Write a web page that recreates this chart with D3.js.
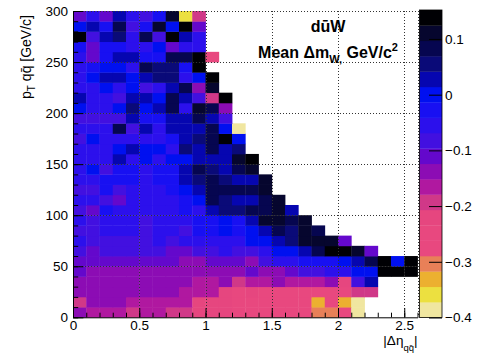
<!DOCTYPE html>
<html>
<head>
<meta charset="utf-8">
<script src="https://cdn.jsdelivr.net/npm/d3@7"></script>
<style>
    body { margin: 0; background: #fff; }
    text { font-family: "Liberation Sans", Arial, Helvetica, sans-serif; }
</style>
</head>
<body>
<svg id="chart" width="491" height="353"></svg>
<script>
// Bin lower edges
const etaBins = [0, 0.1, 0.2, 0.3, 0.4, 0.5, 0.6, 0.7, 0.8, 0.9, 1.0, 1.1, 1.2, 1.3,
    1.4, 1.5, 1.6, 1.7, 1.8, 1.9, 2.0, 2.1, 2.2, 2.3, 2.4, 2.5];
const ptBins = [0, 10, 20, 30, 40, 50, 60, 70, 80, 90, 100, 110, 120, 130, 140,
    150, 160, 170, 180, 190, 200, 210, 220, 230, 240, 250, 260, 270, 280, 290];
const etaBinWidth = 0.1;
const ptBinWidth = 10;

// Mean delta m_W per cell, one row per pT bin (row 0 = 0-10 GeV/c), null = empty
const meanDmW = [
    [-0.14, -0.17, -0.17, -0.17, -0.19, -0.17, -0.17, -0.19, -0.19, -0.21, -0.21, -0.21, -0.25, -0.25, -0.25, -0.25, -0.25, -0.25, -0.30, -0.30, -0.25, -0.39, null, null, null, null],
    [-0.19, -0.14, -0.14, -0.14, -0.17, -0.17, -0.17, -0.17, -0.17, -0.21, -0.21, -0.21, -0.25, -0.25, -0.25, -0.25, -0.25, -0.25, -0.33, -0.25, -0.33, -0.39, null, null, null, null],
    [-0.14, -0.15, -0.15, -0.15, -0.15, -0.15, -0.15, -0.15, -0.16, -0.17, -0.16, -0.22, -0.25, -0.22, -0.25, -0.27, -0.25, -0.25, -0.25, -0.25, -0.25, -0.20, -0.19, null, null, null],
    [-0.14, -0.15, -0.15, -0.15, -0.15, -0.15, -0.15, -0.15, -0.15, -0.16, -0.16, -0.15, -0.18, -0.16, -0.16, -0.15, -0.16, -0.16, -0.16, -0.15, -0.21, -0.08, 0.03, null, null, null],
    [-0.11, -0.14, -0.15, -0.14, -0.14, -0.14, -0.15, -0.14, -0.15, -0.15, -0.14, -0.14, -0.14, -0.11, -0.14, -0.14, -0.11, -0.08, -0.08, -0.06, -0.06, 0.00, 0.00, 0.14, 0.14, 0.14],
    [-0.11, -0.11, -0.11, -0.11, -0.11, -0.11, -0.11, -0.11, -0.14, -0.14, -0.11, -0.11, -0.11, -0.14, -0.08, -0.05, -0.05, -0.03, -0.03, -0.03, 0.00, 0.03, 0.08, 0.14, 0.00, 0.14],
    [-0.09, -0.11, -0.08, -0.08, -0.08, -0.09, -0.09, -0.11, -0.11, -0.08, -0.08, -0.05, -0.09, -0.08, -0.05, 0.00, -0.01, 0.03, 0.07, 0.14, 0.14, 0.11, -0.11, null, null, null],
    [-0.05, -0.08, -0.08, -0.08, -0.08, -0.09, -0.05, -0.09, -0.05, -0.05, -0.05, -0.05, -0.05, 0.00, 0.00, 0.03, 0.06, 0.11, 0.11, 0.11, -0.11, null, null, null, null, null],
    [-0.08, -0.08, -0.05, -0.05, -0.05, -0.09, -0.05, -0.05, -0.08, -0.03, -0.03, 0.00, -0.03, 0.00, 0.02, 0.08, 0.06, 0.11, 0.08, null, null, null, null, null, null, null],
    [-0.05, -0.08, -0.05, -0.05, -0.05, -0.08, -0.05, -0.05, -0.05, -0.03, -0.03, 0.00, -0.03, 0.03, 0.11, 0.11, 0.08, 0.11, null, null, null, null, null, null, null, null],
    [-0.08, -0.11, -0.03, -0.05, -0.05, -0.05, -0.05, -0.05, -0.03, -0.05, 0.03, 0.06, 0.06, 0.08, 0.08, 0.11, 0.03, null, null, null, null, null, null, null, null, null],
    [-0.05, -0.05, -0.08, -0.11, -0.05, -0.05, -0.05, -0.05, -0.03, 0.00, 0.08, 0.06, 0.03, 0.03, 0.07, 0.11, null, null, null, null, null, null, null, null, null, null],
    [-0.08, -0.08, -0.03, -0.08, -0.05, -0.05, -0.05, -0.03, 0.00, 0.03, 0.08, 0.08, 0.09, 0.08, 0.11, null, null, null, null, null, null, null, null, null, null, null],
    [-0.05, -0.05, -0.03, -0.03, -0.03, -0.05, -0.03, -0.03, 0.03, 0.06, 0.08, 0.06, 0.03, 0.03, 0.11, null, null, null, null, null, null, null, null, null, null, null],
    [-0.05, 0.00, -0.08, -0.03, -0.03, -0.05, -0.03, -0.03, 0.03, 0.08, 0.06, 0.03, 0.08, 0.11, null, null, null, null, null, null, null, null, null, null, null, null],
    [-0.05, -0.05, -0.05, 0.03, -0.05, 0.00, -0.05, 0.00, 0.00, 0.03, 0.03, 0.03, 0.11, 0.14, null, null, null, null, null, null, null, null, null, null, null, null],
    [-0.05, -0.05, -0.06, 0.00, 0.03, 0.00, 0.00, -0.05, 0.06, 0.03, 0.08, 0.03, 0.06, null, null, null, null, null, null, null, null, null, null, null, null, null],
    [-0.08, 0.00, -0.05, -0.05, -0.05, -0.05, -0.05, -0.03, 0.03, 0.06, 0.08, 0.14, 0.00, null, null, null, null, null, null, null, null, null, null, null, null, null],
    [-0.05, -0.05, -0.05, 0.08, -0.08, 0.03, -0.06, 0.03, 0.03, 0.03, 0.08, 0.00, -0.39, null, null, null, null, null, null, null, null, null, null, null, null, null],
    [-0.08, -0.08, -0.08, -0.08, 0.03, -0.03, -0.03, 0.03, 0.03, 0.08, 0.03, -0.08, null, null, null, null, null, null, null, null, null, null, null, null, null, null],
    [0.00, -0.06, -0.06, 0.00, 0.06, 0.00, 0.03, 0.07, -0.05, 0.11, 0.08, -0.14, null, null, null, null, null, null, null, null, null, null, null, null, null, null],
    [0.03, -0.06, -0.05, -0.08, 0.03, 0.03, 0.00, 0.07, 0.03, -0.08, -0.19, 0.14, null, null, null, null, null, null, null, null, null, null, null, null, null, null],
    [-0.05, -0.05, 0.00, -0.05, 0.00, -0.08, -0.06, 0.03, 0.07, -0.14, 0.11, null, null, null, null, null, null, null, null, null, null, null, null, null, null, null],
    [-0.05, 0.00, 0.03, 0.03, 0.00, 0.03, 0.06, 0.06, -0.06, 0.00, 0.14, null, null, null, null, null, null, null, null, null, null, null, null, null, null, null],
    [-0.05, -0.03, 0.00, 0.00, -0.05, 0.08, 0.06, 0.06, -0.03, 0.14, null, null, null, null, null, null, null, null, null, null, null, null, null, null, null, null],
    [-0.06, -0.11, -0.03, 0.03, 0.03, -0.03, -0.03, 0.08, 0.08, 0.14, -0.25, null, null, null, null, null, null, null, null, null, null, null, null, null, null, null],
    [-0.03, -0.11, -0.03, -0.03, -0.06, -0.06, 0.00, -0.11, -0.06, -0.06, null, null, null, null, null, null, null, null, null, null, null, null, null, null, null, null],
    [0.14, -0.08, 0.03, 0.06, -0.06, 0.08, -0.08, 0.14, 0.03, -0.06, null, null, null, null, null, null, null, null, null, null, null, null, null, null, null, null],
    [0.00, 0.03, -0.03, 0.08, -0.08, -0.03, 0.11, 0.00, 0.14, -0.11, null, null, null, null, null, null, null, null, null, null, null, null, null, null, null, null],
    [-0.11, -0.06, -0.11, 0.03, -0.05, -0.08, -0.03, 0.11, -0.36, -0.19, null, null, null, null, null, null, null, null, null, null, null, null, null, null, null, null]
];

// Colour palette (20 contour levels, low to high)
const paletteColors = ['#f0e6a0', '#ece040', '#ecb030', '#e88058', '#e8487f', '#e8487f',
    '#e6467f', '#d03888', '#b018a0', '#8c0cb4', '#6408cc', '#4210e0', '#2c10ec', '#1810f2',
    '#0010f0', '#0606b0', '#0a0a78', '#060650', '#06062e', '#000004'];
const zRange = [-0.4, 0.152];

const xTicksMajor = [0, 0.5, 1, 1.5, 2, 2.5];
const yTicksMajor = [0, 50, 100, 150, 200, 250, 300];
const zTicks = [-0.4, -0.3, -0.2, -0.1, 0, 0.1];

function renderChart() {
    const svg = d3.select('#chart');
    const frame = { left: 73, right: 417.5, top: 11, bottom: 317.3 };

    const xScale = d3.scaleLinear().domain([0, 2.6]).range([frame.left, frame.right]);
    const yScale = d3.scaleLinear().domain([0, 300]).range([frame.bottom, frame.top]);
    const colorScale = d3.scaleQuantize().domain(zRange).range(paletteColors);

    // Flatten cells
    const cells = [];
    meanDmW.forEach((row, j) => {
        row.forEach((v, i) => {
            if (v !== null) cells.push({ x0: etaBins[i], y0: ptBins[j], v: v });
        });
    });

    svg.append('g')
        .selectAll('rect')
        .data(cells)
        .enter()
        .append('rect')
        .attr('x', d => xScale(d.x0))
        .attr('y', d => yScale(d.y0 + ptBinWidth))
        .attr('width', d => xScale(d.x0 + etaBinWidth) - xScale(d.x0) + 0.4)
        .attr('height', d => yScale(d.y0) - yScale(d.y0 + ptBinWidth) + 0.4)
        .attr('fill', d => colorScale(d.v));

    // Grid (dotted)
    const grid = svg.append('g')
        .attr('stroke', '#333')
        .attr('stroke-width', 1)
        .attr('stroke-dasharray', '1,2');

    grid.selectAll('.gx')
        .data(xTicksMajor.filter(d => d > 0).concat([2.6]))
        .enter()
        .append('line')
        .attr('x1', d => Math.round(xScale(d)) + 0.5)
        .attr('x2', d => Math.round(xScale(d)) + 0.5)
        .attr('y1', frame.top)
        .attr('y2', frame.bottom);

    grid.selectAll('.gy')
        .data(yTicksMajor.filter(d => d > 0))
        .enter()
        .append('line')
        .attr('x1', frame.left)
        .attr('x2', frame.right)
        .attr('y1', d => Math.round(yScale(d)) + 0.5)
        .attr('y2', d => Math.round(yScale(d)) + 0.5);

    // X axis: minor + major ticks pointing inward
    svg.append('g')
        .attr('transform', `translate(0, ${frame.bottom})`)
        .call(d3.axisBottom(xScale).tickValues(d3.range(0, 2.61, 0.1)).tickSize(-4.6).tickFormat(''))
        .call(g => g.select('.domain').remove());

    svg.append('g')
        .attr('transform', `translate(0, ${frame.bottom})`)
        .call(d3.axisBottom(xScale)
            .tickValues(xTicksMajor)
            .tickSizeInner(-9.2)
            .tickSizeOuter(0)
            .tickPadding(3.5)
            .tickFormat(d3.format('~g')))
        .call(g => g.selectAll('text').style('font-size', '13.5px').attr('fill', '#000'));

    // Y axis
    svg.append('g')
        .attr('transform', `translate(${frame.left}, 0)`)
        .call(d3.axisLeft(yScale).tickValues(d3.range(0, 301, 10)).tickSize(-5.2).tickFormat(''))
        .call(g => g.select('.domain').remove());

    svg.append('g')
        .attr('transform', `translate(${frame.left}, 0)`)
        .call(d3.axisLeft(yScale)
            .tickValues(yTicksMajor)
            .tickSizeInner(-10.4)
            .tickSizeOuter(0)
            .tickPadding(5)
            .tickFormat(d3.format('~g')))
        .call(g => g.selectAll('text').style('font-size', '13.5px').attr('fill', '#000'));

    // Axis titles
    const xTitle = svg.append('text')
        .attr('x', frame.right)
        .attr('y', 344.5)
        .attr('text-anchor', 'end')
        .style('font-size', '13.5px');
    xTitle.append('tspan').text('|Δη');
    xTitle.append('tspan').attr('dy', 6.5).style('font-size', '9.5px').text('qq\u0304');
    xTitle.append('tspan').attr('dy', -6.5).text('|');

    const yTitle = svg.append('text')
        .attr('transform', 'translate(31, 15) rotate(-90)')
        .attr('text-anchor', 'end')
        .style('font-size', '14px');
    yTitle.append('tspan').text('p');
    yTitle.append('tspan').attr('dy', 4).style('font-size', '10px').text('T');
    yTitle.append('tspan').attr('dy', -4).text(' qq\u0304 [GeV/c]');

    // Labels in the plot
    svg.append('text')
        .attr('x', 328)
        .attr('y', 32.3)
        .attr('text-anchor', 'middle')
        .style('font-size', '16px')
        .style('font-weight', 'bold')
        .text('du\u0304W');

    const meanLabel = svg.append('text')
        .attr('x', 328)
        .attr('y', 58.3)
        .attr('text-anchor', 'middle')
        .style('font-size', '16px')
        .style('font-weight', 'bold');
    meanLabel.append('tspan').text('Mean Δm');
    meanLabel.append('tspan').attr('dy', 5).style('font-size', '11px').text('W,');
    meanLabel.append('tspan').attr('dy', -5).text(' GeV/c');
    meanLabel.append('tspan').attr('dy', -7).style('font-size', '11px').text('2');

    // Palette
    const pal = { left: 419.5, right: 442, top: 10, bottom: 317.5 };
    const zScale = d3.scaleLinear().domain(zRange).range([pal.bottom, pal.top]);
    const step = (zRange[1] - zRange[0]) / paletteColors.length;

    svg.append('g')
        .selectAll('rect')
        .data(paletteColors)
        .enter()
        .append('rect')
        .attr('x', pal.left)
        .attr('width', pal.right - pal.left)
        .attr('y', (c, k) => zScale(zRange[0] + (k + 1) * step))
        .attr('height', (c, k) => zScale(zRange[0] + k * step) - zScale(zRange[0] + (k + 1) * step) + 0.3)
        .attr('fill', c => c);

    svg.append('rect')
        .attr('x', pal.left)
        .attr('y', pal.top)
        .attr('width', pal.right - pal.left)
        .attr('height', pal.bottom - pal.top)
        .attr('fill', 'none')
        .attr('stroke', '#000')
        .attr('stroke-width', 0.8);

    svg.append('g')
        .attr('transform', `translate(${pal.right}, 0)`)
        .call(d3.axisRight(zScale)
            .tickValues(zTicks)
            .tickSizeInner(-13)
            .tickSizeOuter(0)
            .tickPadding(3)
            .tickFormat(d3.format('~g')))
        .call(g => g.select('.domain').remove())
        .call(g => g.selectAll('text').style('font-size', '13.5px').attr('fill', '#000'));
}

renderChart();
</script>
</body>
</html>
